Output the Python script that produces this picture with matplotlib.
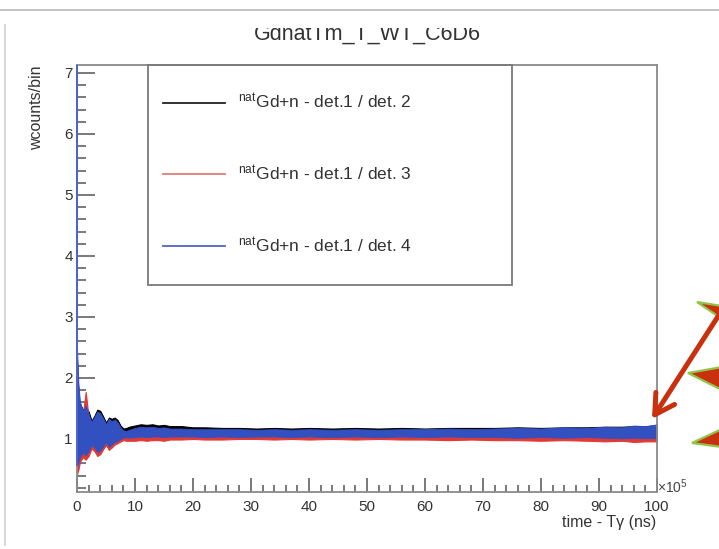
import matplotlib
matplotlib.use("Agg")
import matplotlib.pyplot as plt
from matplotlib.lines import Line2D
from matplotlib.patches import Polygon, Rectangle, FancyArrowPatch
from matplotlib.ticker import MultipleLocator

plt.rcParams['font.family'] = ['Liberation Sans', 'DejaVu Sans']
plt.rcParams['mathtext.fontset'] = 'custom'
plt.rcParams['mathtext.rm'] = 'Liberation Sans'
plt.rcParams['mathtext.it'] = 'Liberation Sans:italic'

# ---------------- data ----------------
title = "GdnatTm_T_WT_C6D6"
x_label = "time - Tγ (ns)"
y_label = "wcounts/bin"
x_ticks = [0, 10, 20, 30, 40, 50, 60, 70, 80, 90, 100]
y_ticks = [1, 2, 3, 4, 5, 6, 7]
labels = [r"$^{\mathrm{nat}}$Gd+n - det.1 / det. 2",
          r"$^{\mathrm{nat}}$Gd+n - det.1 / det. 3",
          r"$^{\mathrm{nat}}$Gd+n - det.1 / det. 4"]

t = [0, 0.25, 0.5, 1, 1.5, 2, 2.5, 3, 3.5, 4, 4.5, 5, 5.5, 6, 6.5, 7, 7.5, 8, 8.5, 9,
     10, 11, 12, 13, 14, 15, 16, 18, 20, 22, 25, 28, 31, 34, 37, 40,
     44, 48, 52, 56, 60, 64, 68, 72, 76, 80, 84, 88, 91, 94, 96, 98, 100]

# det.1 / det.2 (black) envelope
det2_upper = [2.30, 1.70, 1.58, 1.48, 1.52, 1.45, 1.30, 1.38, 1.48, 1.46, 1.37, 1.27, 1.35, 1.33, 1.35, 1.31, 1.22, 1.17, 1.18, 1.20,
              1.22, 1.24, 1.23, 1.24, 1.22, 1.23, 1.21, 1.21, 1.19, 1.19, 1.18, 1.18, 1.17, 1.18, 1.17, 1.18,
              1.17, 1.18, 1.17, 1.18, 1.17, 1.18, 1.18, 1.18, 1.19, 1.18, 1.19, 1.19, 1.20, 1.20, 1.21, 1.21, 1.22]
det2_lower = [0.60, 0.66, 0.74, 0.82, 0.77, 0.84, 0.93, 0.89, 0.82, 0.85, 0.91, 0.98, 0.90, 0.94, 0.98, 1.00, 1.03, 1.06, 1.07, 1.06,
              1.06, 1.07, 1.06, 1.07, 1.07, 1.06, 1.07, 1.07, 1.07, 1.06, 1.07, 1.06, 1.07, 1.07, 1.06, 1.07,
              1.06, 1.07, 1.06, 1.07, 1.06, 1.07, 1.06, 1.06, 1.05, 1.06, 1.05, 1.06, 1.05, 1.04, 1.05, 1.04, 1.05]
# det.1 / det.3 (red) envelope
det3_upper = [2.20, 1.75, 1.55, 1.40, 1.77, 1.36, 1.24, 1.32, 1.40, 1.38, 1.30, 1.20, 1.29, 1.25, 1.28, 1.23, 1.15, 1.10, 1.10, 1.11,
              1.14, 1.15, 1.15, 1.16, 1.14, 1.15, 1.13, 1.13, 1.12, 1.12, 1.12, 1.12, 1.11, 1.12, 1.11, 1.12,
              1.11, 1.12, 1.11, 1.12, 1.12, 1.13, 1.12, 1.13, 1.14, 1.13, 1.15, 1.14, 1.16, 1.15, 1.18, 1.17, 1.20]
det3_lower = [0.42, 0.50, 0.62, 0.70, 0.66, 0.72, 0.84, 0.80, 0.72, 0.75, 0.83, 0.90, 0.82, 0.86, 0.91, 0.93, 0.96, 0.98, 0.97, 0.97,
              0.97, 0.98, 0.97, 0.98, 0.98, 0.97, 0.99, 0.99, 1.00, 0.99, 0.99, 1.00, 1.00, 0.99, 1.00, 0.99,
              1.00, 0.99, 1.00, 0.99, 0.99, 0.98, 0.99, 0.98, 0.98, 0.97, 0.98, 0.97, 0.96, 0.97, 0.95, 0.96, 0.96]
# det.1 / det.4 (blue) envelope
det4_upper = [2.50, 1.90, 1.62, 1.45, 1.55, 1.40, 1.28, 1.36, 1.45, 1.42, 1.34, 1.24, 1.33, 1.29, 1.32, 1.27, 1.19, 1.14, 1.13, 1.15,
              1.18, 1.20, 1.19, 1.20, 1.18, 1.19, 1.17, 1.17, 1.16, 1.16, 1.16, 1.16, 1.15, 1.16, 1.15, 1.16,
              1.15, 1.16, 1.15, 1.16, 1.16, 1.17, 1.16, 1.17, 1.18, 1.17, 1.19, 1.18, 1.20, 1.19, 1.22, 1.21, 1.24]
det4_lower = [0.55, 0.62, 0.70, 0.78, 0.73, 0.80, 0.90, 0.86, 0.78, 0.81, 0.88, 0.95, 0.87, 0.91, 0.95, 0.97, 1.00, 1.02, 1.03, 1.02,
              1.03, 1.04, 1.03, 1.04, 1.04, 1.03, 1.04, 1.04, 1.04, 1.03, 1.04, 1.03, 1.04, 1.04, 1.03, 1.04,
              1.03, 1.04, 1.03, 1.04, 1.03, 1.04, 1.03, 1.03, 1.02, 1.03, 1.02, 1.03, 1.02, 1.01, 1.02, 1.01, 1.02]
det4_first_bin = 7.5   # first bin runs off the top of the frame

colors = ['#000000', '#e03a36', '#3350c0']
legend_colors = ['#222222', '#e07a7a', '#5560c8']

# ---------------- figure ----------------
W, H = 719, 549
fig = plt.figure(figsize=(W / 100, H / 100), dpi=100)
fig.patch.set_facecolor('white')

def P(px, py):
    return (px / W, 1 - py / H)

ax_l, ax_r, ax_t, ax_b = 77, 657, 65, 492
ax = fig.add_axes([ax_l / W, 1 - ax_b / H, (ax_r - ax_l) / W, (ax_b - ax_t) / H])
ax.set_xlim(0, 100)
ax.set_ylim(0.13, 7.13)

ax.fill_between(t, det2_lower, det2_upper, color=colors[0], lw=0.8, zorder=2)
ax.fill_between(t, det3_lower, det3_upper, color=colors[1], lw=0.8, zorder=3)
ax.fill_between(t, det4_lower, det4_upper, color=colors[2], lw=0.6, zorder=4)
ax.vlines(t[0], det4_lower[0], min(det4_first_bin, ax.get_ylim()[1]),
          color='#4a64c8', lw=1.4, zorder=8, clip_on=False)

for s in ax.spines.values():
    s.set_color('#8a8a8a')
    s.set_linewidth(1.3)
    s.set_zorder(6)

ax.set_xticks(x_ticks)
ax.set_yticks(y_ticks)
ax.xaxis.set_minor_locator(MultipleLocator(2))
ax.yaxis.set_minor_locator(MultipleLocator(0.2))
ax.tick_params(axis='both', which='both', direction='in', color='#555555', width=1.1,
               top=False, right=False, labelsize=11, labelcolor='#333333')
ax.tick_params(axis='x', which='major', length=10, pad=6)
ax.tick_params(axis='x', which='minor', length=5)
ax.tick_params(axis='y', which='major', length=13, pad=3)
ax.tick_params(axis='y', which='minor', length=6.5)

# axis labels
fig.text(*P(37, 66), y_label, rotation=90, ha='center', va='top', fontsize=11.5, color='#333333')
fig.text(*P(656, 522), x_label, ha='right', va='center', fontsize=11.5, color='#333333')
fig.text(*P(657, 487), r"×10$^{5}$", ha='left', va='center', fontsize=10, color='#444444')

# title (its top is cut off by the window border in the screenshot)
fig.text(*P(367, 39.5), title, ha='center', va='baseline', fontsize=15.5, color='#333333')
fig.patches.append(Rectangle(P(0, 28), 1, 17 / H, transform=fig.transFigure,
                             facecolor='white', edgecolor='none', zorder=5))
# window frame lines
fig.add_artist(Line2D([0, 1], [1 - 10 / H, 1 - 10 / H], transform=fig.transFigure,
                      color='#b8b8b8', lw=1.2, zorder=6))
fig.add_artist(Line2D([5 / W, 5 / W], [1 - 25 / H, 1 - 545 / H], transform=fig.transFigure,
                      color='#cfcfcf', lw=1.2, zorder=6))

# legend: frame drawn separately, entries placed with the legend machinery
lx0, ly0, lx1, ly1 = 148, 65, 512, 285
fig.patches.append(Rectangle(P(lx0, ly1), (lx1 - lx0) / W, (ly1 - ly0) / H,
                             transform=fig.transFigure, facecolor='none',
                             edgecolor='#7a7a7a', lw=1.3, zorder=7))
handles = [Line2D([], [], color=c, lw=1.3) for c in legend_colors]
leg = ax.legend(handles, labels, loc='upper left', bbox_to_anchor=P(163, 92),
                bbox_transform=fig.transFigure, fontsize=12.5,
                frameon=False, borderpad=0, labelspacing=3.0,
                handlelength=3.55, handletextpad=0.75, borderaxespad=0)
for txt in leg.get_texts():
    txt.set_color('#333333')
leg.set_zorder(8)

# annotation: red arrow and red/green wedges on the right
red = '#c8300e'
green = '#8fc64a'
for tri in ([(697, 302), (722, 306), (722, 319)],
            [(688, 373), (722, 367), (722, 390)],
            [(692, 443), (722, 429), (722, 447)]):
    fig.patches.append(Polygon([P(*p) for p in tri], closed=True, transform=fig.transFigure,
                               facecolor=red, edgecolor=green, lw=1.6, zorder=8))
arr = FancyArrowPatch(P(735, 290), P(652, 419), transform=fig.transFigure,
                      arrowstyle='->,head_length=14,head_width=8', color=red, lw=3.6,
                      shrinkA=0, shrinkB=0, zorder=9)
fig.patches.append(arr)

fig.savefig('out.png', dpi=100, facecolor='white')
